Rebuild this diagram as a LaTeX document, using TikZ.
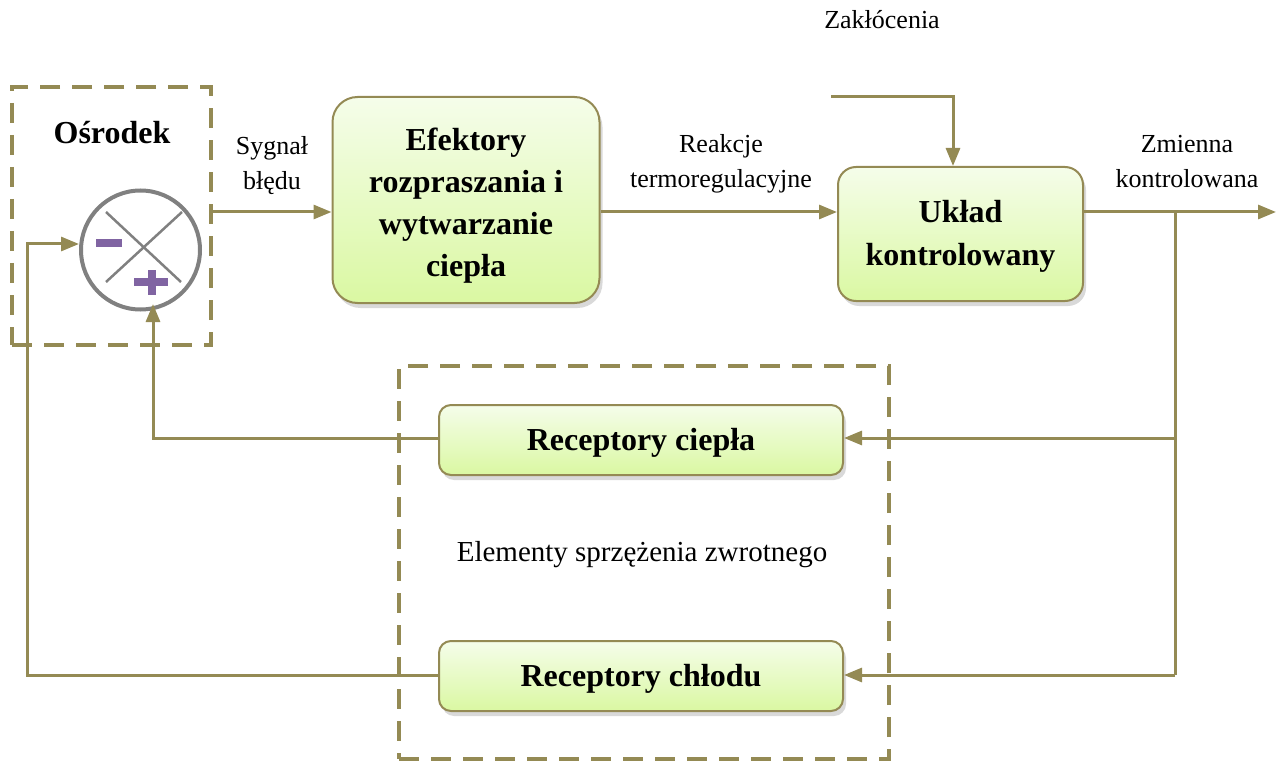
\documentclass[tikz,border=0pt]{standalone}
\usepackage{fontspec}
\setmainfont{Liberation Serif}
\usetikzlibrary{arrows.meta,shadows,calc}
\definecolor{olivec}{RGB}{148,138,84}
\definecolor{boxtop}{RGB}{245,253,234}
\definecolor{boxbot}{RGB}{218,248,162}
\definecolor{purp}{RGB}{128,100,162}
\definecolor{ringgray}{RGB}{128,128,128}
\begin{document}
\begin{tikzpicture}[x=1pt,y=-1pt,
  conn/.style={draw=olivec, line width=3pt, -{Triangle[length=18pt,width=14pt]}},
  plainline/.style={draw=olivec, line width=3pt},
  dashbox/.style={draw=olivec, line width=4pt, dash pattern=on 20pt off 12pt, inner sep=0pt},
  blk/.style={draw=olivec, line width=2pt, top color=boxtop, bottom color=boxbot,
    drop shadow={shadow xshift=3pt, shadow yshift=-5pt, opacity=0.25, fill=black!60},
    inner sep=0pt},
  blktext/.style={align=center, inner sep=0pt, font=\bfseries\fontsize{32}{42}\selectfont},
  lbl/.style={font=\fontsize{26}{35}\selectfont, align=center, inner sep=0pt},
  signbar/.style={fill=purp, draw=none}
]
\useasboundingbox (0,0) rectangle (1280,762);

% dashed groups
\node[dashbox, minimum width=199pt, minimum height=258pt] (osr) at (111.5,216) {};
\node[dashbox, minimum width=490pt, minimum height=393pt] (fb) at (644,562.5) {};

% blocks
\node[blk, rounded corners=25pt, minimum width=267pt, minimum height=206pt] (eff) at (466,200) {};
\node[blktext] (efft) at (466,206) {Efektory\\rozpraszania i\\wytwarzanie\\ciepła};
\node[blk, rounded corners=18pt, minimum width=245pt, minimum height=134pt] (uk) at (960.5,234) {};
\node[blktext, font=\bfseries\fontsize{32}{43}\selectfont] (ukt) at (960.5,236) {Układ\\kontrolowany};
\node[blk, rounded corners=12pt, minimum width=404pt, minimum height=70pt] (warm) at (641,440) {};
\node[blktext] (warmt) at (641,443) {Receptory ciepła};
\node[blk, rounded corners=12pt, minimum width=404pt, minimum height=70pt] (cold) at (641,676) {};
\node[blktext] (coldt) at (641,679) {Receptory chłodu};

% summing junction
\node[circle, draw=ringgray, line width=4pt, minimum size=119pt, inner sep=0pt] (sum) at (140.5,250) {};
\draw[ringgray, line width=2.5pt] (106,212) -- (181,282);
\draw[ringgray, line width=2.5pt] (182,212) -- (106,282);
\fill[signbar] (96,239) rectangle (122,247);
\fill[signbar] (134,278) rectangle (168,286);
\fill[signbar] (148,270) rectangle (156,295);

% texts
\node[font=\bfseries\fontsize{32}{40}\selectfont, inner sep=0pt] (osrl) at (112,133) {Ośrodek};
\node[lbl] (zak) at (882,20) {Zakłócenia};
\node[lbl] (syg) at (272,166) {Sygnał\\błędu};
\node[lbl] (rea) at (721,164) {Reakcje\\termoregulacyjne};
\node[lbl] (zmi) at (1187,162) {Zmienna\\kontrolowana};
\node[font=\fontsize{29}{35}\selectfont, inner sep=0pt] (elem) at (642,555) {Elementy sprzężenia zwrotnego};

% connectors
\coordinate (dist) at (831,97);
\coordinate (distc) at (953,97);
\coordinate (out) at (1276,212);
\coordinate (br) at (1175,212);
\coordinate (brw) at (1175,438);
\coordinate (brc) at (1175,675);
\coordinate (wcorner) at (153,438);
\coordinate (wtip) at (153,304);
\coordinate (ccorner) at (27,675);
\coordinate (cup) at (27,244);
\coordinate (ctip) at (79,244);

\draw[conn] (osr.east |- 0,212) -- (eff.west |- 0,212);
\draw[conn] (eff.east |- 0,212) -- (uk.west |- 0,212);
\draw[conn] (dist) -- (distc) -- (distc |- uk.north);
\draw[conn] (uk.east |- 0,212) -- (out);
\draw[plainline] (br) -- (brc);
\draw[conn] (brw) -- (warm.east |- brw);
\draw[conn] (brc) -- (cold.east |- brc);
\draw[conn] (warm.west |- wcorner) -- (wcorner) -- (wtip);
\draw[conn] (cold.west |- ccorner) -- (ccorner) -- (cup) -- (ctip);
\end{tikzpicture}
\end{document}
